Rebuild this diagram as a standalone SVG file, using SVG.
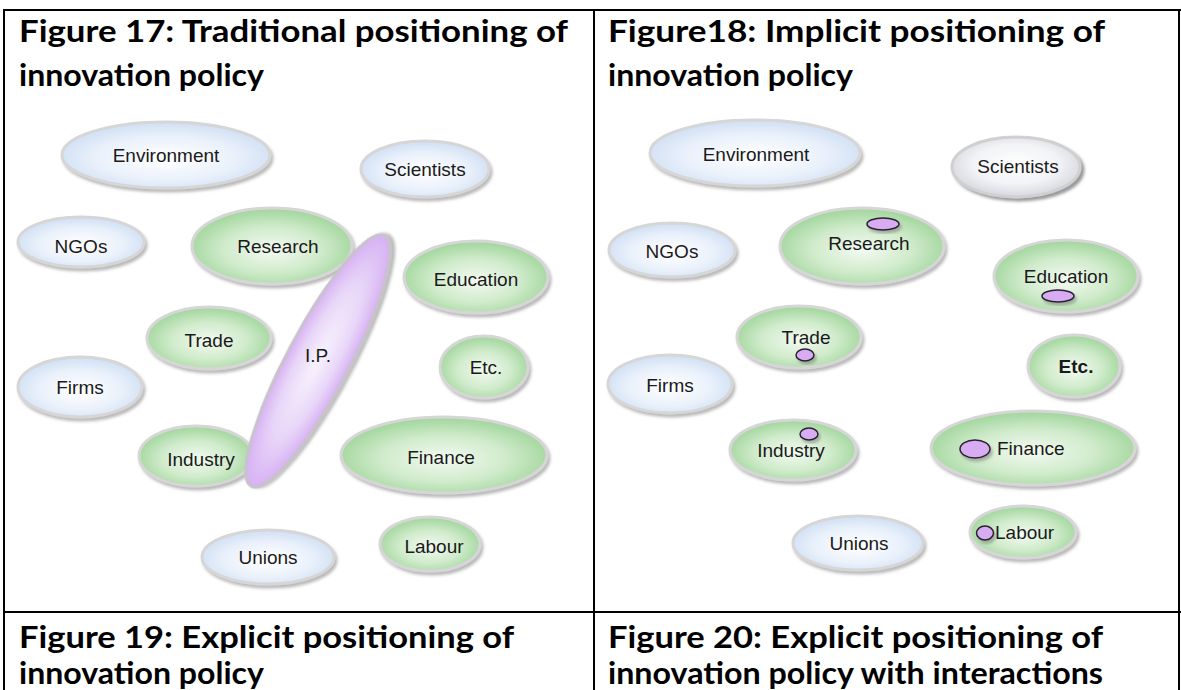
<svg xmlns="http://www.w3.org/2000/svg" width="1181" height="690" viewBox="0 0 1181 690">
<style>
.t{font-family:Lato,"DejaVu Sans","Liberation Sans",sans-serif;font-weight:bold;font-size:30px;fill:#000}
.l{font-family:"Liberation Sans",Arial,sans-serif;font-size:19px;fill:#1a1a1a;text-anchor:middle}
.ls{font-family:"Liberation Sans",Arial,sans-serif;font-size:19px;fill:#1a1a1a}
.g{fill:url(#gG);stroke:#d6d6d6;stroke-width:3;filter:url(#sh)}
.b{fill:url(#gB);stroke:#d6d6d6;stroke-width:3;filter:url(#sh)}
.w{fill:url(#gW);stroke:#d0d0d0;stroke-width:3;filter:url(#sh2)}
.p{fill:#d7acf2;stroke:#2a2030;stroke-width:1.5;filter:url(#sh)}
.rule{stroke:#000;stroke-width:2;fill:none}
</style>
<defs>
<radialGradient id="gG" cx="50%" cy="55%" r="55%">
<stop offset="0" stop-color="#f3faf2"/><stop offset="0.55" stop-color="#d0ebcb"/><stop offset="1" stop-color="#9fd59a"/>
</radialGradient>
<radialGradient id="gB" cx="50%" cy="55%" r="55%">
<stop offset="0" stop-color="#ffffff"/><stop offset="0.6" stop-color="#eaf1fb"/><stop offset="1" stop-color="#cfdff4"/>
</radialGradient>
<radialGradient id="gW" cx="50%" cy="45%" r="55%">
<stop offset="0" stop-color="#ffffff"/><stop offset="0.6" stop-color="#f2f3f6"/><stop offset="1" stop-color="#d6d8e0"/>
</radialGradient>
<radialGradient id="gP" cx="50%" cy="50%" r="55%">
<stop offset="0" stop-color="#f8f2fd"/><stop offset="0.55" stop-color="#e8d6f8"/><stop offset="1" stop-color="#d3a8f2"/>
</radialGradient>
<filter id="sh" x="-20%" y="-20%" width="140%" height="150%">
<feDropShadow dx="2" dy="3" stdDeviation="1.8" flood-color="#666" flood-opacity="0.45"/>
</filter>
<filter id="sh2" x="-20%" y="-20%" width="140%" height="150%">
<feDropShadow dx="3" dy="3" stdDeviation="1.8" flood-color="#555" flood-opacity="0.6"/>
</filter>
</defs>
<rect width="1181" height="690" fill="#fff"/>

<g id="table">
<line class="rule" x1="3" y1="10" x2="1181" y2="10"/>
<line class="rule" x1="4" y1="9" x2="4" y2="690"/>
<line class="rule" x1="594" y1="9" x2="594" y2="690"/>
<line class="rule" x1="1179" y1="9" x2="1179" y2="690"/>
<line class="rule" x1="3" y1="612" x2="1181" y2="612"/>
</g>

<g id="titles">
<text class="t" x="19" y="42" textLength="549" lengthAdjust="spacingAndGlyphs">Figure 17: Traditional positioning of</text>
<text class="t" x="19" y="86" textLength="245" lengthAdjust="spacingAndGlyphs">innovation policy</text>
<text class="t" x="608" y="42" textLength="497" lengthAdjust="spacingAndGlyphs">Figure18: Implicit positioning of</text>
<text class="t" x="608" y="86" textLength="245" lengthAdjust="spacingAndGlyphs">innovation policy</text>
<text class="t" x="19" y="648" textLength="495" lengthAdjust="spacingAndGlyphs">Figure 19: Explicit positioning of</text>
<text class="t" x="19" y="684" textLength="245" lengthAdjust="spacingAndGlyphs">innovation policy</text>
<text class="t" x="608" y="648" textLength="495" lengthAdjust="spacingAndGlyphs">Figure 20: Explicit positioning of</text>
<text class="t" x="608" y="684" textLength="495" lengthAdjust="spacingAndGlyphs">innovation policy with interactions</text>
</g>

<g id="connectors"></g>

<!-- Figure 17 -->
<g id="f17-environment"><ellipse class="b" cx="166" cy="155" rx="104" ry="33"/><text class="l" x="166" y="162">Environment</text></g>
<g id="f17-scientists"><ellipse class="b" cx="425" cy="169" rx="64" ry="28"/><text class="l" x="425" y="176">Scientists</text></g>
<g id="f17-ngos"><ellipse class="b" cx="81" cy="242" rx="63" ry="25"/><text class="l" x="81" y="253">NGOs</text></g>
<g id="f17-research"><ellipse class="g" cx="272" cy="246" rx="80" ry="38"/><text class="l" x="278" y="253">Research</text></g>
<g id="f17-education"><ellipse class="g" cx="476" cy="277" rx="72" ry="36"/><text class="l" x="476" y="286">Education</text></g>
<g id="f17-trade"><ellipse class="g" cx="209" cy="338" rx="62" ry="31"/><text class="l" x="209" y="347">Trade</text></g>
<g id="f17-etc"><ellipse class="g" cx="484" cy="367" rx="44" ry="31"/><text class="l" x="486" y="374">Etc.</text></g>
<g id="f17-firms"><ellipse class="b" cx="80" cy="387" rx="62" ry="30"/><text class="l" x="80" y="394">Firms</text></g>
<g id="f17-industry"><ellipse class="g" cx="196" cy="456" rx="57" ry="30"/><text class="l" x="201" y="466">Industry</text></g>
<g id="f17-finance"><ellipse class="g" cx="444" cy="455" rx="103" ry="38"/><text class="l" x="441" y="464">Finance</text></g>
<g id="f17-unions"><ellipse class="b" cx="268" cy="557" rx="66" ry="27"/><text class="l" x="268" y="564">Unions</text></g>
<g id="f17-labour"><ellipse class="g" cx="430" cy="544" rx="50" ry="27"/><text class="l" x="434" y="553">Labour</text></g>
<g id="f17-ip"><ellipse cx="318" cy="361" rx="142" ry="31" transform="rotate(-62 318 361)" fill="url(#gP)" stroke="#c8c2cc" stroke-width="3" filter="url(#sh)"/><text class="l" x="318" y="362">I.P.</text></g>

<!-- Figure 18 -->
<g id="f18-environment"><ellipse class="b" cx="755" cy="153" rx="105" ry="33"/><text class="l" x="756" y="161">Environment</text></g>
<g id="f18-scientists"><ellipse class="w" cx="1016" cy="167" rx="64" ry="30"/><text class="l" x="1018" y="173">Scientists</text></g>
<g id="f18-ngos"><ellipse class="b" cx="672" cy="250" rx="63" ry="27"/><text class="l" x="672" y="258">NGOs</text></g>
<g id="f18-research"><ellipse class="g" cx="862" cy="246" rx="82" ry="38"/><text class="l" x="869" y="250">Research</text><ellipse class="p" cx="883" cy="224" rx="16" ry="6"/></g>
<g id="f18-education"><ellipse class="g" cx="1066" cy="276" rx="72" ry="36"/><text class="l" x="1066" y="283">Education</text><ellipse class="p" cx="1058" cy="296" rx="16" ry="6"/></g>
<g id="f18-trade"><ellipse class="g" cx="799" cy="337" rx="62" ry="31"/><text class="l" x="806" y="344">Trade</text><ellipse class="p" cx="805" cy="355" rx="9" ry="6"/></g>
<g id="f18-etc"><ellipse class="g" cx="1074" cy="366" rx="46" ry="31"/><text class="l" x="1076" y="373" font-weight="bold">Etc.</text></g>
<g id="f18-firms"><ellipse class="b" cx="670" cy="384" rx="62" ry="29"/><text class="l" x="670" y="392">Firms</text></g>
<g id="f18-industry"><ellipse class="g" cx="793" cy="450" rx="63" ry="30"/><text class="l" x="791" y="457">Industry</text><ellipse class="p" cx="809" cy="434" rx="9" ry="6"/></g>
<g id="f18-finance"><ellipse class="g" cx="1033" cy="448" rx="102" ry="37"/><text class="ls" x="997" y="455">Finance</text><ellipse class="p" cx="975" cy="449" rx="15" ry="9"/></g>
<g id="f18-unions"><ellipse class="b" cx="858" cy="543" rx="65" ry="27"/><text class="l" x="859" y="550">Unions</text></g>
<g id="f18-labour"><ellipse class="g" cx="1023" cy="532" rx="53" ry="26"/><text class="ls" x="995" y="539">Labour</text><ellipse class="p" cx="985" cy="533" rx="8.5" ry="7"/></g>
</svg>
